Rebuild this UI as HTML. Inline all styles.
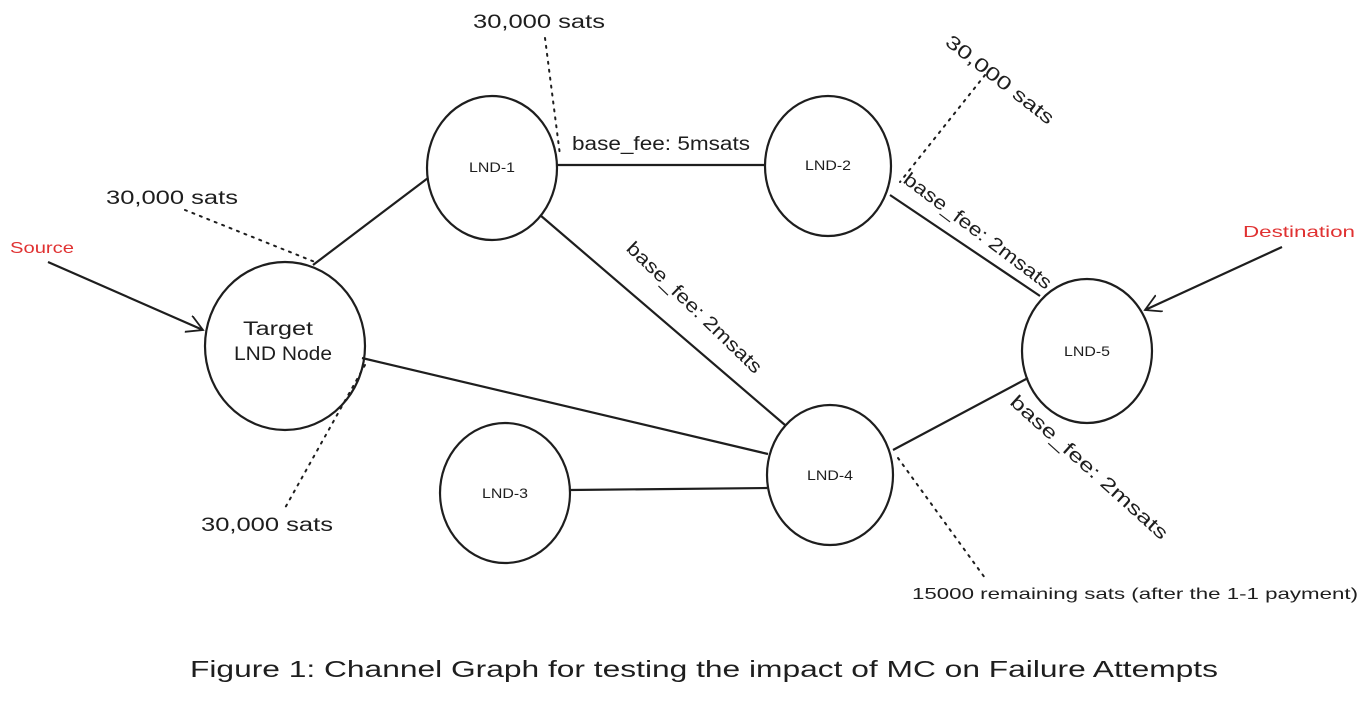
<!DOCTYPE html>
<html><head><style>
html,body{margin:0;padding:0;background:#fff;}
svg text{font-family:"Liberation Sans",sans-serif;fill:#1e1e1e;}
</style></head><body>
<svg width="1368" height="699" viewBox="0 0 1368 699" xmlns="http://www.w3.org/2000/svg">
<defs>
<marker id="ah" markerWidth="20" markerHeight="20" refX="16" refY="9" orient="auto" markerUnits="userSpaceOnUse">
<path d="M0,0 L16,9 L0,18" fill="none" stroke="#1e1e1e" stroke-width="1.8"/>
</marker>
</defs>
<g stroke="#1e1e1e" stroke-width="2.2" fill="none">
<ellipse cx="285" cy="346" rx="80" ry="84"/>
<ellipse cx="492" cy="168" rx="65" ry="72"/>
<ellipse cx="828" cy="166" rx="63" ry="70"/>
<ellipse cx="505" cy="493" rx="65" ry="70"/>
<ellipse cx="830" cy="475" rx="63" ry="70"/>
<ellipse cx="1087" cy="351" rx="65" ry="72"/>
<line x1="313" y1="265" x2="428" y2="178"/>
<line x1="557" y1="165" x2="765" y2="165"/>
<line x1="540" y1="215" x2="785" y2="425"/>
<line x1="890" y1="195" x2="1040" y2="296"/>
<line x1="362" y1="358" x2="768" y2="454"/>
<line x1="570" y1="490" x2="767" y2="488"/>
<line x1="893" y1="450" x2="1028" y2="378"/>
<line x1="48" y1="262" x2="203" y2="330" marker-end="url(#ah)"/>
<line x1="1282" y1="247" x2="1145" y2="310" marker-end="url(#ah)"/>
</g>
<g stroke="#1e1e1e" stroke-width="2" fill="none" stroke-dasharray="2 6" stroke-linecap="round">
<line x1="545" y1="38" x2="560" y2="155"/>
<line x1="985" y1="75" x2="900" y2="182"/>
<line x1="185" y1="210" x2="315" y2="262"/>
<line x1="365" y1="365" x2="285" y2="508"/>
<line x1="898" y1="458" x2="985" y2="578"/>
</g>
<g font-size="19" lengthAdjust="spacingAndGlyphs">
<text x="473" y="28" textLength="132" lengthAdjust="spacingAndGlyphs">30,000 sats</text>
<text x="106" y="204" textLength="132" lengthAdjust="spacingAndGlyphs">30,000 sats</text>
<text x="201" y="531" textLength="132" lengthAdjust="spacingAndGlyphs">30,000 sats</text>
<text x="572" y="150" textLength="178" lengthAdjust="spacingAndGlyphs">base_fee: 5msats</text>
<text x="944" y="44" transform="rotate(38 944 44)" textLength="132" lengthAdjust="spacingAndGlyphs">30,000 sats</text>
<text x="690" y="312" text-anchor="middle" transform="rotate(44 690 312)" textLength="180" lengthAdjust="spacingAndGlyphs">base_fee: 2msats</text>
<text x="974" y="236" text-anchor="middle" transform="rotate(37 974 236)" textLength="180" lengthAdjust="spacingAndGlyphs">base_fee: 2msats</text>
<text x="1085" y="472" text-anchor="middle" transform="rotate(42 1085 472)" textLength="205" lengthAdjust="spacingAndGlyphs">base_fee: 2msats</text>
<text x="278" y="335" text-anchor="middle" textLength="70" lengthAdjust="spacingAndGlyphs">Target</text>
<text x="283" y="360" text-anchor="middle" textLength="98" lengthAdjust="spacingAndGlyphs">LND Node</text>
</g>
<g font-size="14">
<text x="492" y="172" text-anchor="middle" textLength="46" lengthAdjust="spacingAndGlyphs">LND-1</text>
<text x="828" y="170" text-anchor="middle" textLength="46" lengthAdjust="spacingAndGlyphs">LND-2</text>
<text x="505" y="498" text-anchor="middle" textLength="46" lengthAdjust="spacingAndGlyphs">LND-3</text>
<text x="830" y="480" text-anchor="middle" textLength="46" lengthAdjust="spacingAndGlyphs">LND-4</text>
<text x="1087" y="356" text-anchor="middle" textLength="46" lengthAdjust="spacingAndGlyphs">LND-5</text>
</g>
<text x="10" y="253" font-size="16" style="fill:#e03131" textLength="64" lengthAdjust="spacingAndGlyphs">Source</text>
<text x="1243" y="237" font-size="16" style="fill:#e03131" textLength="112" lengthAdjust="spacingAndGlyphs">Destination</text>
<text x="912" y="599" font-size="16" textLength="446" lengthAdjust="spacingAndGlyphs">15000 remaining sats (after the 1-1 payment)</text>
<text x="190" y="677" font-size="23" textLength="1028" lengthAdjust="spacingAndGlyphs">Figure 1: Channel Graph for testing the impact of MC on Failure Attempts</text>
</svg>
</body></html>
